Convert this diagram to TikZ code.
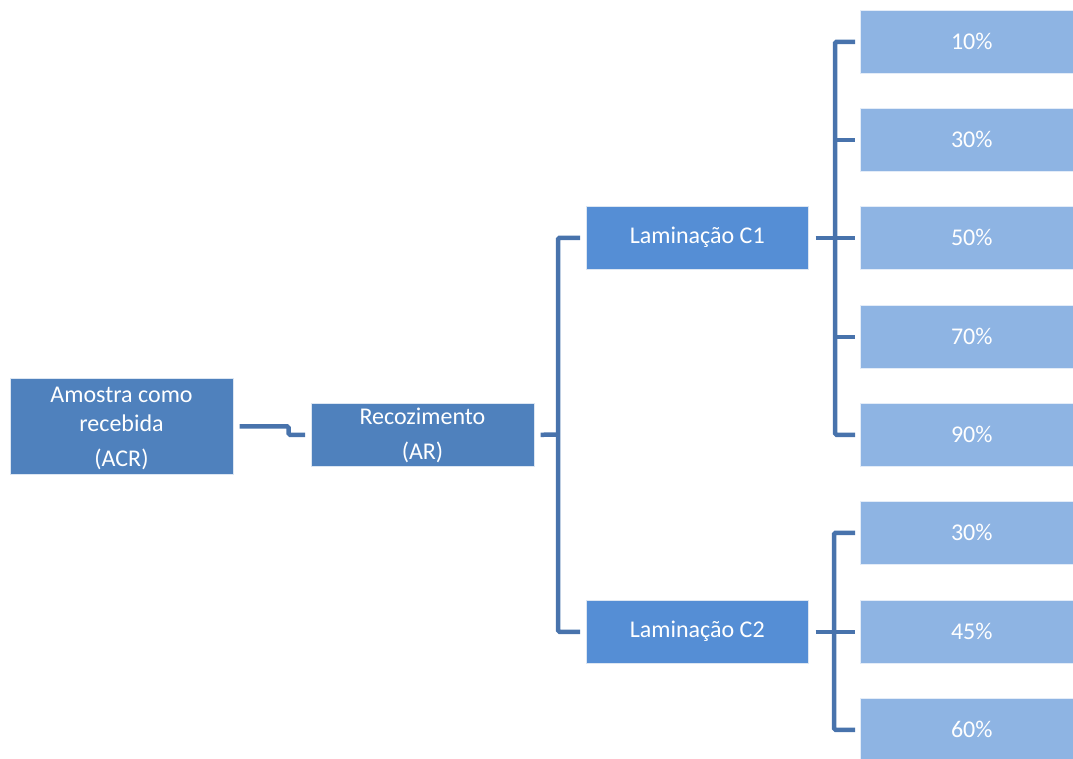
\documentclass[tikz,border=0pt]{standalone}
\usepackage{fontspec}
\setmainfont{Carlito}
\definecolor{dark}{HTML}{4F81BD}
\definecolor{mid}{HTML}{558ED5}
\definecolor{light}{HTML}{8EB4E3}
\definecolor{wire}{HTML}{4873AC}
\tikzset{
  box/.style={anchor=north west, inner sep=0pt, draw=white!80!dark, line width=0.6pt},
  darkbox/.style={box, fill=dark},
  midbox/.style={box, fill=mid},
  leafbox/.style={box, fill=light, draw=white!75!light},
  txt/.style={text=white, font=\fontsize{24}{28}\selectfont, inner sep=0pt},
  conn/.style={draw=wire, line width=4.5pt, rounded corners=1.5pt}
}
\begin{document}
\begin{tikzpicture}[x=1pt,y=-1pt]
\useasboundingbox (0,0) rectangle (1073,758);
\clip (0,0) rectangle (1073,758);
% boxes
\node[darkbox, minimum width=223pt, minimum height=96pt] (acr) at (10,378) {};
\node[darkbox, minimum width=223pt, minimum height=63pt] (ar) at (311,403) {};
\node[midbox, minimum width=222pt, minimum height=63pt] (c1) at (586,206) {};
\node[midbox, minimum width=222pt, minimum height=63pt] (c2) at (586,600) {};
\foreach \n/\y in {l10/10, l30a/108, l50/206, l70/305, l90/403, m30/501, m45/600, m60/698}{
  \node[leafbox, minimum width=223pt, minimum height=63pt] (\n) at (860,\y) {};
}
% texts
\node[txt] (acrt1) at (121.5,395) {Amostra como};
\node[txt] (acrt2) at (121.5,423) {recebida};
\node[txt] (acrt3) at (121.5,459) {(ACR)};
\node[txt] (art1) at (422.5,416) {Recozimento};
\node[txt] (art2) at (422.5,452) {(AR)};
\node[txt] at ([yshift=0.5pt]c1.center) {Laminação C1};
\node[txt] at ([yshift=0.5pt]c2.center) {Laminação C2};
\node[txt] at (l10.center) {10\%};
\node[txt] at (l30a.center) {30\%};
\node[txt] at (l50.center) {50\%};
\node[txt] at (l70.center) {70\%};
\node[txt] at (l90.center) {90\%};
\node[txt] at (m30.center) {30\%};
\node[txt] at (m45.center) {45\%};
\node[txt] at (m60.center) {60\%};
% connectors
\draw[conn] ([xshift=6pt]acr.east) -- ++(49,0) |- ([xshift=-6pt]ar.west);
\coordinate (j1) at (558,434.5);
\draw[conn] ([xshift=-6pt]c1.west) -| (j1) |- ([xshift=-6pt]c2.west);
\draw[conn] ([xshift=6pt]ar.east) -- (j1);
\coordinate (b1) at (835,237.5);
\draw[conn] ([xshift=-5pt]l10.west) -| (b1) |- ([xshift=-5pt]l90.west);
\draw[conn] ([xshift=7pt]c1.east) -- ([xshift=-5pt]l50.west);
\draw[conn] (b1 |- l30a.west) -- ([xshift=-5pt]l30a.west);
\draw[conn] (b1 |- l70.west) -- ([xshift=-5pt]l70.west);
\coordinate (b2) at (834,631.5);
\draw[conn] ([xshift=-5pt]m30.west) -| (b2) |- ([xshift=-5pt]m60.west);
\draw[conn] ([xshift=7pt]c2.east) -- ([xshift=-5pt]m45.west);
\end{tikzpicture}
\end{document}
